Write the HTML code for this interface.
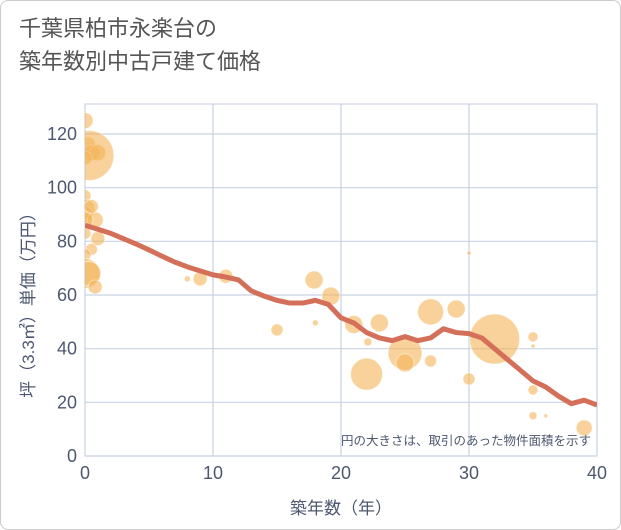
<!DOCTYPE html>
<html><head><meta charset="utf-8"><style>
body{margin:0;background:#fff;font-family:"Liberation Sans","Noto Sans CJK JP",sans-serif;}
#wrap{position:relative;width:619px;height:528px;border:1px solid #ccc;border-radius:8px;background:#fff;overflow:hidden}
#title{position:absolute;left:18px;top:11px;font-size:22px;line-height:33px;color:#555;}
svg{position:absolute;left:0;top:0}
</style></head><body>
<div id="wrap">
<div id="title">千葉県柏市永楽台の<br>築年数別中古戸建て価格</div>
<svg id="chart" width="621" height="530"><defs><clipPath id="pc"><rect x="84" y="103" width="512" height="352"/></clipPath></defs></svg>
</div>
<script>
const xTicks=[0,10,20,30,40];
const yTicks=[0,20,40,60,80,100,120];
const lineYears=[0,1,2,3,4,5,6,7,8,9,10,11,12,13,14,15,16,17,18,19,20,21,22,23,24,25,26,27,28,29,30,31,32,33,34,35,36,37,38,39,40];
const lineValues=[86,84.5,83,81,79,76.8,74.5,72.3,70.5,69,67.5,66.7,65.6,61.5,59.6,58,57,57,58,56.5,51.5,49.6,46,44,43,44.5,43,44,47.4,46,45.6,44,40,36,32,28,25.7,22.3,19.5,20.8,19];
const bubX=[0,0.2,0.5,1,0,0,0,0,0.8,0,1,0.5,0,0,0.3,0.8,0.3,8,9,11,15,17.9,18,19.2,21,22.1,22,23,25,25,27,27,29,30,30,32,35,35,35,35,36,39,0,0.5];
const bubY=[125,116,113,113,111,97,92,90,88,83,81,77,75,68,68,63,112,66,66,67,47,65.6,49.6,59.6,49,42.5,30.5,49.6,38.4,34.7,35.4,53.7,54.8,75.6,28.7,43.6,44.4,41,24.6,15,15,10.5,88,93];
const bubR=[8,8,8,8,7,6,10,8,8,6,7,6,6,15,12,7,25,3,7,7,6,9,3,9,9,4,16,9,17,9,6,13,9,2,6,25,5,2,5,4,2,8,8,7];
const X0=84,X1=596,Y0=455,Y1=133;
const sx=v=>X0+(X1-X0)*v/40;
const sy=v=>Y0-(Y0-Y1)*v/120;
const svg=document.getElementById('chart');const NS='http://www.w3.org/2000/svg';
function mk(t,a,par){const e=document.createElementNS(NS,t);for(const k in a)e.setAttribute(k,a[k]);(par||svg).appendChild(e);return e;}
const bg=mk('rect',{x:X0,y:103,width:X1-X0,height:Y0-103,fill:'#fff',stroke:'#c5cfdf'});


yTicks.forEach(v=>{
 const l=mk('line',{x1:X0,x2:X1,y1:sy(v),y2:sy(v),stroke:'#c8d2e2','stroke-width':1.2});
 
 
 const t=mk('text',{x:X0-8,y:sy(v)+6,'text-anchor':'end','font-size':18,fill:'#4d5870'});
 t.textContent=v;
 
 
});
xTicks.forEach(v=>{
 const l=mk('line',{x1:sx(v),x2:sx(v),y1:103,y2:Y0,stroke:'#c8d2e2','stroke-width':1.2});
 
 
 const t=mk('text',{x:sx(v),y:Y0+23,'text-anchor':'middle','font-size':18,fill:'#4d5870'});
 t.textContent=v;
 
 
});
const g=mk('g',{'clip-path':'url(#pc)'});


bubX.forEach((x,i)=>{
 const c=mk('circle',{cx:sx(x),cy:sy(bubY[i]),r:bubR[i],fill:'#f3b456','fill-opacity':0.6,stroke:'#fff','stroke-opacity':0.5,'stroke-width':1},g);
 
 
});
const p=mk('polyline',{points:lineYears.map((x,i)=>sx(x)+','+sy(lineValues[i])).join(' '),fill:'none',stroke:'#d4705a','stroke-width':5,'stroke-linejoin':'round'},g);


const note=mk('text',{x:590,y:444,'text-anchor':'end','font-size':12.5,fill:'#4d5870'});
note.textContent='円の大きさは、取引のあった物件面積を示す';


const xt=mk('text',{x:340,y:513,'text-anchor':'middle','font-size':17,fill:'#4d5870'});
xt.textContent='築年数（年）';


const yt=mk('text',{x:0,y:0,'text-anchor':'middle','font-size':17,fill:'#4d5870',transform:'translate(33,300) rotate(-90)'});
yt.textContent='坪（3.3㎡）単価（万円）';


</script>
</body></html>
